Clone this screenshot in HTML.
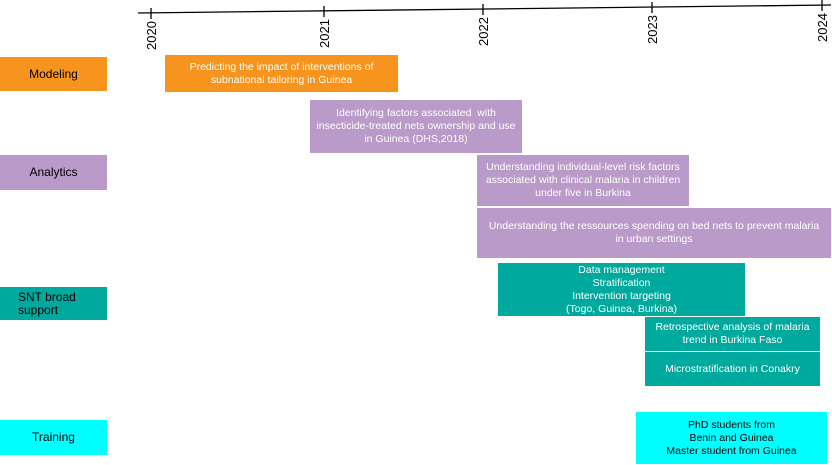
<!DOCTYPE html>
<html><head><meta charset="utf-8"><style>
html,body{margin:0;padding:0;background:#fff;}
body{width:832px;height:465px;position:relative;overflow:hidden;font-family:"Liberation Sans",sans-serif;}
.b{position:absolute;display:flex;align-items:center;justify-content:center;text-align:center;color:#fff;font-family:"Liberation Sans Narrow","Liberation Sans",sans-serif;font-size:10.5px;line-height:13px;box-sizing:border-box;}
.l{position:absolute;display:flex;align-items:center;justify-content:center;color:#000;font-size:12px;line-height:13px;}
.o{background:#f7941d}.p{background:#b99ac8}.t{background:#00a99d}.c{background:#00ffff}
.y{position:absolute;font-size:13px;transform:rotate(-90deg);transform-origin:left top;}
</style></head><body>
<svg width="832" height="70" style="position:absolute;left:0;top:0">
<line x1="138" y1="13" x2="831" y2="5" stroke="#000" stroke-width="1.3"/>
<g stroke="#000" stroke-width="1.3">
<line x1="151" y1="8" x2="151" y2="19"/>
<line x1="324" y1="6" x2="324" y2="17"/>
<line x1="483" y1="4" x2="483" y2="15"/>
<line x1="652" y1="2" x2="652" y2="13"/>
<line x1="822" y1="0" x2="822" y2="11"/>
</g>
</svg>
<div class="y" style="left:144px;top:50px">2020</div>
<div class="y" style="left:317px;top:48px">2021</div>
<div class="y" style="left:476px;top:46px">2022</div>
<div class="y" style="left:645px;top:44px">2023</div>
<div class="y" style="left:815px;top:42px">2024</div>

<div class="l o" style="left:0;top:57px;width:107px;height:34px">Modeling</div>
<div class="l p" style="left:0;top:155px;width:107px;height:35px">Analytics</div>
<div class="l t" style="left:0;top:287px;width:107px;height:33px;justify-content:flex-start;padding-left:18px;box-sizing:border-box">SNT broad<br>support</div>
<div class="l c" style="left:0;top:420px;width:107px;height:35px">Training</div>

<div class="b o" style="left:165px;top:55px;width:233px;height:37px">Predicting the impact of interventions of<br>subnational tailoring in Guinea</div>
<div class="b p" style="left:310px;top:100px;width:212px;height:53px">Identifying factors associated &nbsp;with<br>insecticide-treated nets ownership and use<br>in Guinea (DHS,2018)</div>
<div class="b p" style="left:477px;top:155px;width:212px;height:51px">Understanding individual-level risk factors<br>associated with clinical malaria in children<br>under five in Burkina</div>
<div class="b p" style="left:477px;top:208px;width:354px;height:50px">Understanding the ressources spending on bed nets to prevent malaria<br>in urban settings</div>
<div class="b t" style="left:498px;top:263px;width:247px;height:53px">Data management<br>Stratification<br>Intervention targeting<br>(Togo, Guinea, Burkina)</div>
<div class="b t" style="left:645px;top:317px;width:175px;height:34px">Retrospective analysis of malaria<br>trend in Burkina Faso</div>
<div class="b t" style="left:645px;top:352px;width:175px;height:34px">Microstratification in Conakry</div>
<div class="b c" style="left:636px;top:412px;width:191px;height:52px;color:#000">PhD students from<br>Benin and Guinea<br>Master student from Guinea</div>
</body></html>
